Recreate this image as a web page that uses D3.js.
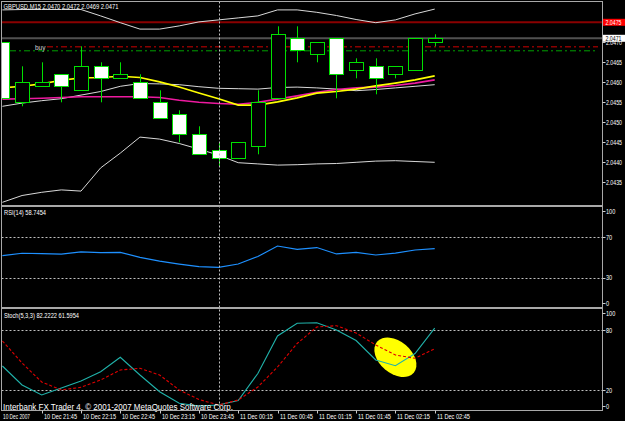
<!DOCTYPE html>
<html><head><meta charset="utf-8">
<script src="https://cdn.jsdelivr.net/npm/d3@7"></script>
<style>body{margin:0;background:#000;overflow:hidden}svg{display:block;background:#000}</style>
</head><body><svg id="c" width="625" height="421"></svg>
<script>
// ---------- DATA ----------
const barTimes = ["21:15","21:30","21:45","22:00","22:15","22:30","22:45","23:00","23:15","23:30","23:45","00:00","00:15","00:30","00:45","01:00","01:15","01:30","01:45","02:00","02:15","02:30","02:45"];
const open  = [2.0470,2.0455,2.0459,2.0462,2.0458,2.0464,2.0461,2.0460,2.0455,2.0452,2.0447,2.0443,2.0441,2.0444,2.0456,2.0471,2.0467,2.0471,2.0463,2.0464,2.0462,2.0463,2.0470];
const high  = [2.0470,2.0464,2.0465,2.0462,2.0469,2.0465,2.0465,2.0462,2.0458,2.0453,2.0449,2.0445,2.0445,2.0458,2.0474,2.0474,2.0470,2.0471,2.0466,2.0466,2.0464,2.0471,2.0472];
const low   = [2.0456,2.0454,2.0459,2.0455,2.0458,2.0455,2.0461,2.0456,2.0451,2.0445,2.0442,2.0439,2.0441,2.0442,2.0456,2.0465,2.0465,2.0456,2.0461,2.0457,2.0461,2.0463,2.0469];
const close = [2.0456,2.0460,2.0460,2.0459,2.0464,2.0461,2.0462,2.0456,2.0451,2.0447,2.0442,2.0441,2.0445,2.0455,2.0472,2.0468,2.0470,2.0462,2.0465,2.0461,2.0464,2.0471,2.0471];
const bbUpper  = [2.04781,2.04782,2.04782,2.04782,2.04782,2.04766,2.04749,2.04733,2.04733,2.04741,2.04751,2.04756,2.04761,2.04766,2.04781,2.04781,2.04775,2.04767,2.04757,2.04749,2.04756,2.04771,2.04783];
const bbMiddle = [2.04540,2.04548,2.04554,2.04559,2.04568,2.04577,2.04590,2.04597,2.04596,2.04594,2.04589,2.04585,2.04584,2.04583,2.04587,2.04588,2.04586,2.04583,2.04579,2.04582,2.04586,2.04590,2.04594];
const bbLower  = [2.04300,2.04317,2.04325,2.04331,2.04328,2.04386,2.04423,2.04463,2.04458,2.04447,2.04433,2.04418,2.04399,2.04396,2.04393,2.04394,2.04396,2.04397,2.04400,2.04403,2.04404,2.04402,2.04400];
const maYellow  = [2.04586,2.04590,2.04596,2.04605,2.04611,2.04612,2.04615,2.04612,2.04601,2.04588,2.04573,2.04559,2.04543,2.04543,2.04551,2.04561,2.04573,2.04577,2.04583,2.04591,2.04598,2.04606,2.04616];
const maMagenta = [2.04558,2.04559,2.04560,2.04562,2.04564,2.04564,2.04564,2.04564,2.04562,2.04555,2.04550,2.04547,2.04545,2.04550,2.04558,2.04566,2.04575,2.04582,2.04586,2.04588,2.04592,2.04598,2.04606];
const rsi14 = [51.9,54.3,53.9,53.4,55.6,54.9,55.2,50.3,46.5,43.7,41.1,40.5,43.7,51.1,61.4,58.2,59.9,53.6,55.2,52.6,54.5,57.5,58.75];
const stochMain   = [44.3,25.3,15.3,22.3,29.3,38.6,53.0,35.3,18.6,7.0,4.3,5.3,9.8,36.8,74.3,87.0,87.6,80.3,69.8,50.3,44.6,56.8,82.2];
const stochSignal = [69.3,47.3,28.3,20.3,23.0,30.3,40.3,42.0,35.3,20.3,10.8,5.3,10.3,23.3,43.3,66.8,83.3,84.6,77.3,65.3,55.3,52.0,61.6];
const priceTicks = [2.0435,2.0440,2.0445,2.0450,2.0455,2.0460,2.0465,2.0470];
const rsiTicks = [100,70,30,0], rsiLevels = [70,30];
const stochTicks = [100,80,20,0], stochLevels = [80,20];
const timeLabelBars = [0,2,4,6,8,10,12,14,16,18,20,22];
const timeLabels = ["10 Dec 2007","10 Dec 21:45","10 Dec 22:15","10 Dec 22:45","10 Dec 23:15","10 Dec 23:45","11 Dec 00:15","11 Dec 00:45","11 Dec 01:15","11 Dec 01:45","11 Dec 02:15","11 Dec 02:45"];
const daySeparatorBar = 11;
const highlightBar = 20, highlightValue = 53;
const resistanceLevel = 2.0475, bidLevel = 2.0471, orderLevel = 2.0469, tpLevel = 2.0468;
const titleText = "GBPUSD,M15  2.0470 2.0472 2.0469 2.0471";
const rsiTitle = "RSI(14) 58.7454";
const stochTitle = "Stoch(5,3,3) 82.2222 61.5954";
const footer = "Interbank FX Trader 4, \u00A9 2001-2007 MetaQuotes Software Corp.";

// ---------- LAYOUT ----------
const svg = d3.select('#c');
const FONT = '"Liberation Sans", Arial, sans-serif';
const L = 1.5, R = 602.5;
const main = {top:1.5, bottom:205.5}, rsiP = {top:206.5, bottom:307.5}, stP = {top:308.5, bottom:410.5};
const x = d3.scaleLinear().domain([0,22]).range([2.4,434.7]);
const yP = d3.scaleLinear().domain([2.0455,2.0465]).range([102.3,62.3]);
const yR = d3.scaleLinear().domain([0,100]).range([308.5,206.75]);
const yS = d3.scaleLinear().domain([0,100]).range([410.3,310.3]);
const GREEN = '#00e000', GRID = '#c0c0c0', BORDER = '#a8a8a8';

svg.append('defs').append('clipPath').attr('id','mc').append('rect')
  .attr('x',L+0.5).attr('y',main.top).attr('width',R-L-1).attr('height',main.bottom-main.top);

function txt(g, xx, yy, s, o={}) {
  const t = g.append('text').attr('x',xx).attr('y',yy).text(s)
    .attr('font-family',FONT).attr('font-size',o.size||7).attr('fill',o.fill||'#fff');
  if (o.anchor) t.attr('text-anchor',o.anchor);
  if (o.width) t.attr('textLength',o.width).attr('lengthAdjust','spacingAndGlyphs');
  else if (o.k) { const len = t.node().getComputedTextLength(); t.attr('textLength',len*o.k).attr('lengthAdjust','spacingAndGlyphs'); }
  return t;
}

// ---------- MAIN PANEL ----------
const mg = svg.append('g').attr('clip-path','url(#mc)');
mg.append('line').attr('x1',L).attr('x2',R).attr('y1',yP(resistanceLevel)).attr('y2',yP(resistanceLevel))
  .attr('stroke','#8a0000').attr('stroke-width',2);
mg.append('line').attr('x1',L).attr('x2',R).attr('y1',yP(bidLevel)).attr('y2',yP(bidLevel))
  .attr('stroke','#505050').attr('stroke-width',2);
mg.append('line').attr('x1',47).attr('x2',598).attr('y1',yP(orderLevel)+0.5).attr('y2',yP(orderLevel)+0.5)
  .attr('stroke','#8a0000').attr('stroke-width',1.5).attr('stroke-dasharray','6,3,2,3');
mg.append('line').attr('x1',10).attr('x2',598).attr('y1',yP(tpLevel)+0.5).attr('y2',yP(tpLevel)+0.5)
  .attr('stroke','#00a000').attr('stroke-width',1).attr('stroke-dasharray','6,3,2,3');

const lineP = d3.line().x((d,i)=>x(i)).y(d=>yP(d));
[bbUpper,bbLower,bbMiddle].forEach(d=>
  mg.append('path').datum(d).attr('d',lineP).attr('fill','none').attr('stroke','#d8d8d8').attr('stroke-width',1));
mg.append('path').datum(maMagenta).attr('d',lineP).attr('fill','none').attr('stroke','#ee1aa0').attr('stroke-width',1.6);
mg.append('path').datum(maYellow).attr('d',lineP).attr('fill','none').attr('stroke','#ffff00').attr('stroke-width',1.6);

const bars = open.map((o,i)=>({i,o,h:high[i],l:low[i],c:close[i]}));
const cg = mg.selectAll('g.bar').data(bars).enter().append('g');
cg.append('line')
  .attr('x1',d=>Math.round(x(d.i))+0.5).attr('x2',d=>Math.round(x(d.i))+0.5)
  .attr('y1',d=>yP(d.h)).attr('y2',d=>yP(d.l)).attr('stroke',GREEN).attr('stroke-width',1);
cg.append('rect')
  .attr('x',d=>Math.round(x(d.i))-7+0.5).attr('width',14)
  .attr('y',d=>Math.round(yP(Math.max(d.o,d.c)))+0.5)
  .attr('height',d=>Math.max(1,Math.round(yP(Math.min(d.o,d.c)))-Math.round(yP(Math.max(d.o,d.c)))))
  .attr('fill',d=>d.c>=d.o?'#000':'#fff').attr('stroke',GREEN).attr('stroke-width',1);

txt(svg,35,49.5,'buy',{size:6.5,fill:'#d0d0d0'});
txt(svg,3.5,9,titleText,{size:7,width:115});

// ---------- RSI PANEL ----------
const rg = svg.append('g');
rsiLevels.forEach(v=>rg.append('line').attr('x1',L).attr('x2',R).attr('y1',Math.round(yR(v))+0.5).attr('y2',Math.round(yR(v))+0.5)
  .attr('stroke',GRID).attr('stroke-dasharray','2,2'));
rg.append('path').datum(rsi14).attr('d',d3.line().x((d,i)=>x(i)).y(d=>yR(d)))
  .attr('fill','none').attr('stroke','#1e90ff').attr('stroke-width',1.2);
txt(svg,4,215,rsiTitle,{size:6.5,width:42});

// ---------- STOCH PANEL ----------
const sg = svg.append('g');
sg.append('ellipse').attr('cx',0).attr('cy',0).attr('rx',24).attr('ry',16)
  .attr('transform',`translate(${x(highlightBar)},${yS(highlightValue)}) rotate(40)`).attr('fill','#ffff00');
stochLevels.forEach(v=>sg.append('line').attr('x1',L).attr('x2',R).attr('y1',Math.round(yS(v))+0.5).attr('y2',Math.round(yS(v))+0.5)
  .attr('stroke',GRID).attr('stroke-dasharray','2,2'));
sg.append('path').datum(stochMain).attr('d',d3.line().x((d,i)=>x(i)).y(d=>yS(d)))
  .attr('fill','none').attr('stroke','#20b2aa').attr('stroke-width',1.1);
sg.append('path').datum(stochSignal).attr('d',d3.line().x((d,i)=>x(i)).y(d=>yS(d)))
  .attr('fill','none').attr('stroke','#e00000').attr('stroke-width',1.1).attr('stroke-dasharray','3,2');
txt(svg,4,317.5,stochTitle,{size:6.5,width:75});
txt(svg,3,409.5,footer,{size:8.5,width:230});

svg.append('line').attr('x1',Math.round(x(daySeparatorBar))+0.5).attr('x2',Math.round(x(daySeparatorBar))+0.5)
  .attr('y1',main.top).attr('y2',stP.bottom).attr('stroke',GRID).attr('stroke-dasharray','2,2');

[main,rsiP,stP].forEach(p=>svg.append('rect').attr('x',L).attr('y',p.top).attr('width',R-L).attr('height',p.bottom-p.top)
  .attr('fill','none').attr('stroke',BORDER).attr('stroke-width',1));

// ---------- RIGHT AXES ----------
const ax = svg.append('g');
priceTicks.forEach(v=>{
  const yy = yP(v);
  ax.append('line').attr('x1',R).attr('x2',R+3).attr('y1',Math.round(yy)+0.5).attr('y2',Math.round(yy)+0.5).attr('stroke','#ccc');
  txt(ax,606,yy+2.5,v.toFixed(4),{size:6.5,width:16});
});
function tag(v,bg,fg){
  const yy = yP(v);
  ax.append('rect').attr('x',603).attr('y',yy-3.5).attr('width',22).attr('height',7).attr('fill',bg);
  txt(ax,605.5,yy+2.5,v.toFixed(4),{size:6.5,width:16,fill:fg});
}
tag(resistanceLevel,'#ff0000','#ffffff');
tag(bidLevel,'#ffffff','#000000');

function panelAxis(ticks,scale,p){
  ticks.forEach(v=>{
    const yy = Math.max(p.top+4.5,Math.min(p.bottom-4.5,scale(v)));
    ax.append('line').attr('x1',R).attr('x2',R+3).attr('y1',Math.round(yy)+0.5).attr('y2',Math.round(yy)+0.5).attr('stroke','#ccc');
    txt(ax,606,yy+2.5,String(v),{size:7,k:0.8});
  });
}
panelAxis(rsiTicks,yR,rsiP);
panelAxis(stochTicks,yS,stP);

// ---------- TIME AXIS ----------
timeLabelBars.forEach((b,k)=>{
  const xx = Math.round(x(b))+0.5;
  if (k>0) svg.append('line').attr('x1',xx).attr('x2',xx).attr('y1',stP.bottom).attr('y2',stP.bottom+3).attr('stroke','#ccc');
  txt(svg,k===0?3:xx+1.5,418.5,timeLabels[k],{size:7,width:k===0?27:33});
});
</script></body></html>
